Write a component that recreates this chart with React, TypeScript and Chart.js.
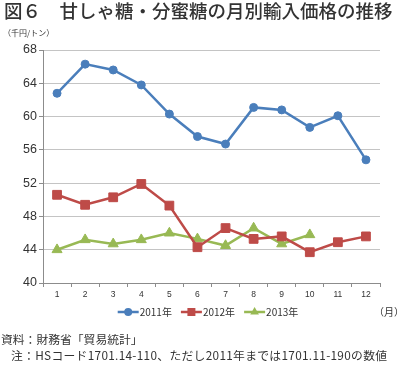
import React, { useEffect, useRef } from "react";
import { Chart, registerables } from "chart.js";

Chart.register(...registerables);

const months = ["1", "2", "3", "4", "5", "6", "7", "8", "9", "10", "11", "12"];
const y2011 = [62.8, 66.3, 65.6, 63.8, 60.3, 57.6, 56.7, 61.1, 60.8, 58.7, 60.1, 54.8];
const y2012 = [50.6, 49.4, 50.3, 51.9, 49.3, 44.3, 46.6, 45.3, 45.6, 43.7, 44.9, 45.6];
const y2013 = [44.0, 45.2, 44.7, 45.2, 46.0, 45.3, 44.5, 46.6, 44.7, 45.8];
const seriesNames = ["2011年", "2012年", "2013年"];

const BLUE = "#4A7EBB";
const RED = "#BE4B48";
const GREEN = "#98B954";

const JP = '"Noto Sans CJK JP", "Noto Sans", sans-serif';

function drawMarker(ctx: CanvasRenderingContext2D, style: string, x: number, y: number, color: string) {
  ctx.fillStyle = color;
  ctx.beginPath();
  if (style === "circle") {
    ctx.arc(x, y, 4, 0, Math.PI * 2);
  } else if (style === "rect") {
    ctx.rect(x - 4, y - 4, 8, 8);
  } else {
    const r = 5;
    ctx.moveTo(x, y - r);
    ctx.lineTo(x + r * 0.866, y + r * 0.5);
    ctx.lineTo(x - r * 0.866, y + r * 0.5);
    ctx.closePath();
  }
  ctx.fill();
}

const legendPlugin = {
  id: "customLegend",
  afterDraw(chart: any) {
    const ctx = chart.ctx;
    const y = 312;
    ctx.save();
    ctx.font = `10px ${JP}`;
    ctx.textBaseline = "middle";
    const lineLen = 21;
    const gapText = 1;
    const gapItem = 9;
    const items = chart.data.datasets.map((ds: any) => ({
      ds,
      w: lineLen + gapText + ctx.measureText(ds.label).width,
    }));
    const total = items.reduce((s: number, it: any) => s + it.w, 0) + gapItem * (items.length - 1);
    let x = 208 - total / 2;
    items.forEach((it: any) => {
      const ds = it.ds;
      ctx.strokeStyle = ds.borderColor;
      ctx.lineWidth = 2.5;
      ctx.beginPath();
      ctx.moveTo(x, y);
      ctx.lineTo(x + lineLen, y);
      ctx.stroke();
      drawMarker(ctx, ds.pointStyle, x + lineLen / 2, y, ds.borderColor);
      ctx.fillStyle = "#333";
      ctx.fillText(ds.label, x + lineLen + gapText, y + 0.5);
      x += it.w + gapItem;
    });
    ctx.restore();
  },
};

export default function App() {
  const ref = useRef<HTMLCanvasElement>(null);

  useEffect(() => {
    if (!ref.current) return;
    const chart = new Chart(ref.current, {
      type: "line",
      data: {
        labels: months,
        datasets: [
          {
            label: seriesNames[0],
            data: y2011,
            borderColor: BLUE,
            backgroundColor: BLUE,
            borderWidth: 2.5,
            pointStyle: "circle",
            pointRadius: 4,
            pointBorderWidth: 1,
            tension: 0,
          },
          {
            label: seriesNames[1],
            data: y2012,
            borderColor: RED,
            backgroundColor: RED,
            borderWidth: 2.5,
            pointStyle: "rect",
            pointRadius: 6.2,
            pointBorderWidth: 1,
            tension: 0,
          },
          {
            label: seriesNames[2],
            data: y2013,
            borderColor: GREEN,
            backgroundColor: GREEN,
            borderWidth: 2.5,
            pointStyle: "triangle",
            pointRadius: 5.8,
            pointBorderWidth: 1,
            tension: 0,
          },
        ],
      },
      options: {
        animation: false,
        responsive: false,
        maintainAspectRatio: false,
        layout: { padding: { left: 0, right: 20, top: 50, bottom: 65 } },
        plugins: {
          legend: { display: false },
          tooltip: { enabled: false },
        },
        scales: {
          x: {
            type: "category",
            offset: true,
            afterFit: (s: any) => {
              s.height = 22;
            },
            grid: {
              offset: true,
              drawOnChartArea: false,
              drawTicks: true,
              tickLength: 4,
              color: "#8c8c8c",
            },
            border: { color: "#8c8c8c", width: 1 },
            ticks: {
              padding: 3,
              color: "#333",
              font: { size: 8.5, family: '"Liberation Sans", Arial, sans-serif' },
              maxRotation: 0,
            },
          },
          y: {
            min: 40,
            max: 68,
            afterFit: (s: any) => {
              s.width = 43;
            },
            grid: {
              color: "#c4c4c4",
              lineWidth: 1,
              drawTicks: true,
              tickLength: 4,
              tickColor: "#8c8c8c",
            },
            border: { color: "#8c8c8c", width: 1 },
            ticks: {
              stepSize: 4,
              padding: 2,
              color: "#333",
              font: { size: 12.5, family: '"Liberation Sans", Arial, sans-serif' },
            },
          },
        },
      },
      plugins: [legendPlugin],
    });
    return () => chart.destroy();
  }, []);

  return (
    <div
      style={{
        position: "fixed",
        left: 0,
        top: 0,
        width: 400,
        height: 370,
        background: "#fff",
        fontFamily: JP,
        color: "#333",
        overflow: "hidden",
      }}
    >
      <canvas ref={ref} width={400} height={370} style={{ position: "absolute", left: 0, top: 0 }} />
      <div
        style={{
          position: "absolute",
          left: 4,
          top: 0,
          fontSize: 18.5,
          lineHeight: "20px",
          whiteSpace: "nowrap",
          fontWeight: 500,
        }}
      >
        図６　甘しゃ糖・分蜜糖の月別輸入価格の推移
      </div>
      <div style={{ position: "absolute", left: 3, top: 28, fontSize: 8, lineHeight: "10px", whiteSpace: "nowrap" }}>
        （千円/トン）
      </div>
      <div style={{ position: "absolute", left: 374, top: 306, fontSize: 10, lineHeight: "12px", whiteSpace: "nowrap" }}>
        （月）
      </div>
      <div style={{ position: "absolute", left: 1, top: 332, fontSize: 11.8, lineHeight: "14px", whiteSpace: "nowrap" }}>
        資料：財務省「貿易統計」
      </div>
      <div
        style={{
          position: "absolute",
          left: 11,
          top: 348,
          fontSize: 11.8,
          lineHeight: "14px",
          whiteSpace: "nowrap",
          letterSpacing: "0.3px",
        }}
      >
        注：HSコード1701.14-110、ただし2011年までは1701.11-190の数値
      </div>
    </div>
  );
}
